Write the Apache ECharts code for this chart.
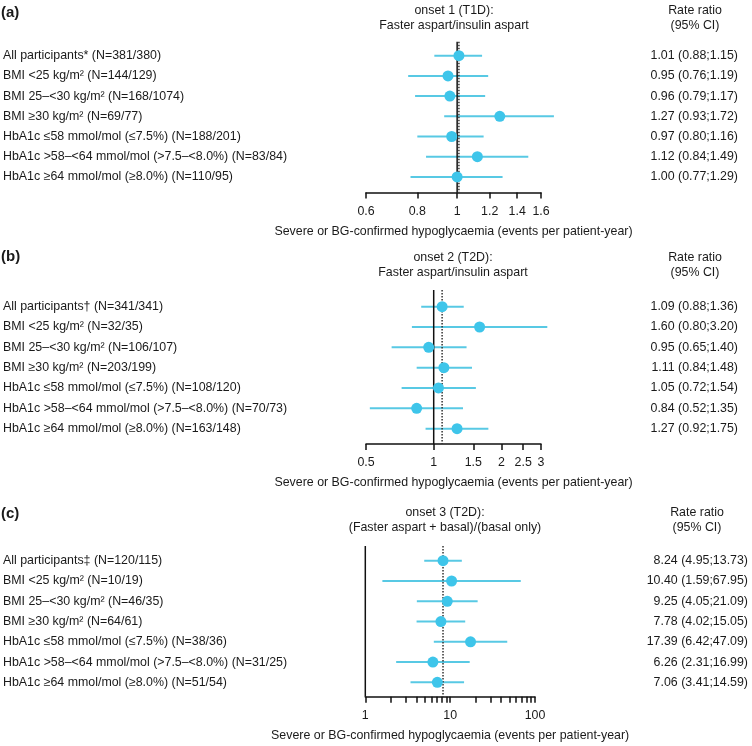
<!DOCTYPE html>
<html>
<head>
<meta charset="utf-8">
<script src="https://cdn.jsdelivr.net/npm/echarts@6/dist/echarts.min.js"></script>
<style>html,body{margin:0;padding:0;background:#fff}#c{width:752px;height:746px}</style>
</head>
<body>
<div id="c"></div>
<script>
// ---------- data ----------
const panelTags = ['(a)', '(b)', '(c)'];
const headers = ['onset 1 (T1D):\nFaster aspart/insulin aspart', 'onset 2 (T2D):\nFaster aspart/insulin aspart', 'onset 3 (T2D):\n(Faster aspart + basal)/(basal only)'];
const valueHeader = 'Rate ratio\n(95% CI)';
const xTitle = 'Severe or BG-confirmed hypoglycaemia (events per patient-year)';

const labelsA = ['All participants* (N=381/380)', 'BMI <25 kg/m² (N=144/129)', 'BMI 25–<30 kg/m² (N=168/1074)', 'BMI ≥30 kg/m² (N=69/77)', 'HbA1c ≤58 mmol/mol (≤7.5%) (N=188/201)', 'HbA1c >58–<64 mmol/mol (>7.5–<8.0%) (N=83/84)', 'HbA1c ≥64 mmol/mol (≥8.0%) (N=110/95)'];
const estA = [1.01, 0.95, 0.96, 1.27, 0.97, 1.12, 1.00];
const loA  = [0.88, 0.76, 0.79, 0.93, 0.80, 0.84, 0.77];
const hiA  = [1.15, 1.19, 1.17, 1.72, 1.16, 1.49, 1.29];
const refA = [1, 1.01];
const ticksA = [0.6, 0.8, 1, 1.2, 1.4, 1.6];
const tickLabelsA = [0.6, 0.8, 1, 1.2, 1.4, 1.6];

const labelsB = ['All participants† (N=341/341)', 'BMI <25 kg/m² (N=32/35)', 'BMI 25–<30 kg/m² (N=106/107)', 'BMI ≥30 kg/m² (N=203/199)', 'HbA1c ≤58 mmol/mol (≤7.5%) (N=108/120)', 'HbA1c >58–<64 mmol/mol (>7.5–<8.0%) (N=70/73)', 'HbA1c ≥64 mmol/mol (≥8.0%) (N=163/148)'];
const estB = [1.09, 1.60, 0.95, 1.11, 1.05, 0.84, 1.27];
const loB  = [0.88, 0.80, 0.65, 0.84, 0.72, 0.52, 0.92];
const hiB  = [1.36, 3.20, 1.40, 1.48, 1.54, 1.35, 1.75];
const refB = [1, 1.09];
const ticksB = [0.5, 1, 1.5, 2, 2.5, 3];
const tickLabelsB = [0.5, 1, 1.5, 2, 2.5, 3];

const labelsC = ['All participants‡ (N=120/115)', 'BMI <25 kg/m² (N=10/19)', 'BMI 25–<30 kg/m² (N=46/35)', 'BMI ≥30 kg/m² (N=64/61)', 'HbA1c ≤58 mmol/mol (≤7.5%) (N=38/36)', 'HbA1c >58–<64 mmol/mol (>7.5–<8.0%) (N=31/25)', 'HbA1c ≥64 mmol/mol (≥8.0%) (N=51/54)'];
const estC = [8.24, 10.40, 9.25, 7.78, 17.39, 6.26, 7.06];
const loC  = [4.95, 1.59, 4.05, 4.02, 6.42, 2.31, 3.41];
const hiC  = [13.73, 67.95, 21.09, 15.05, 47.09, 16.99, 14.59];
const refC = [1, 8.24];
const ticksC = [1, 2, 3, 4, 5, 6, 7, 8, 9, 10, 20, 30, 40, 50, 60, 70, 80, 90, 100];
const tickLabelsC = [1, 10, 100];

// ---------- layout (pixels) ----------
const layout = [
  {min: 0.6, max: 1.6, left: 365, right: 541, top: 45.6, band: 20.2, axisY: 192.5, lineTop: 41.7, valRight: 738, tagTop: 5, headTop: 3, headX: 454, valX: 695},
  {min: 0.5, max: 3,   left: 365, right: 541, top: 296.5, band: 20.33, axisY: 444, lineTop: 290, valRight: 738, tagTop: 249, headTop: 250.5, headX: 453, valX: 695},
  {min: 1,   max: 100, left: 364.3, right: 535, top: 550.6, band: 20.27, axisY: 696.7, lineTop: 546, valRight: 748, tagTop: 506, headTop: 505, headX: 445, valX: 697}
];

const panels = [
  {labels: labelsA, est: estA, lo: loA, hi: hiA, ref: refA, ticks: ticksA, tickLabels: tickLabelsA},
  {labels: labelsB, est: estB, lo: loB, hi: hiB, ref: refB, ticks: ticksB, tickLabels: tickLabelsB},
  {labels: labelsC, est: estC, lo: loC, hi: hiC, ref: refC, ticks: ticksC, tickLabels: tickLabelsC}
];

const FONT = '"Liberation Sans", Arial, sans-serif';
const FS = 12.4;
const TXT = '#1a1a1a';
const DOT = '#3ec5ea';
const BAR = '#58c9e4';
const fmt2 = v => v.toFixed(2);

const option = {
  backgroundColor: '#fff',
  animation: false,
  textStyle: {fontFamily: FONT},
  title: [], grid: [], xAxis: [], yAxis: [], series: []
};

panels.forEach((p, i) => {
  const L = layout[i];
  const h = p.labels.length * L.band;
  const valueLabels = p.est.map((v, k) => fmt2(v) + ' (' + fmt2(p.lo[k]) + ';' + fmt2(p.hi[k]) + ')');

  option.title.push(
    {text: panelTags[i], left: 1, top: L.tagTop, padding: 0, textStyle: {fontFamily: FONT, fontSize: 15, fontWeight: 'bold', color: TXT}},
    {text: headers[i], left: L.headX, top: L.headTop, padding: 0, textAlign: 'center', textStyle: {fontFamily: FONT, fontSize: FS, fontWeight: 'normal', lineHeight: 15, color: TXT}},
    {text: valueHeader, left: L.valX, top: L.headTop, padding: 0, textAlign: 'center', textStyle: {fontFamily: FONT, fontSize: FS, fontWeight: 'normal', lineHeight: 15, color: TXT}}
  );

  option.grid.push({left: L.left, top: L.top, width: L.right - L.left, height: h, containLabel: false});

  option.xAxis.push({
    gridIndex: i, type: 'log', logBase: 10, min: L.min, max: L.max,
    offset: L.axisY - (L.top + h),
    axisLine: {show: true, lineStyle: {color: '#111', width: 1.5}},
    axisTick: {show: true, length: 6, customValues: p.ticks, lineStyle: {color: '#111', width: 1.5}},
    minorTick: {show: false},
    splitLine: {show: false},
    axisLabel: {customValues: p.tickLabels, margin: 13, color: TXT, fontSize: FS, fontFamily: FONT,
      formatter: v => String(+Number(v).toPrecision(6))},
    name: xTitle, nameLocation: 'middle', nameGap: 33,
    nameTextStyle: {color: TXT, fontSize: FS, fontFamily: FONT}
  });

  option.yAxis.push({
    gridIndex: i, type: 'category', data: p.labels, inverse: true,
    axisLine: {show: false}, axisTick: {show: false}, splitLine: {show: false},
    axisLabel: {interval: 0, align: 'left', margin: L.left - 2, color: TXT, fontSize: FS, fontFamily: FONT}
  }, {
    gridIndex: i, type: 'category', data: valueLabels, inverse: true, position: 'right',
    axisLine: {show: false}, axisTick: {show: false}, splitLine: {show: false},
    axisLabel: {interval: 0, align: 'right', margin: L.valRight - L.right, color: TXT, fontSize: FS, fontFamily: FONT}
  });

  // confidence intervals
  option.series.push({
    type: 'custom', xAxisIndex: i, yAxisIndex: 2 * i, clip: false, z: 2,
    data: p.lo.map((lo, k) => [lo, p.hi[k], k]),
    encode: {x: [0, 1], y: 2},
    renderItem: (params, api) => {
      const a = api.coord([api.value(0), api.value(2)]);
      const b = api.coord([api.value(1), api.value(2)]);
      return {type: 'line', shape: {x1: a[0], y1: a[1], x2: b[0], y2: b[1]}, style: {stroke: BAR, lineWidth: 2}};
    }
  });

  // reference lines (line of no difference, overall estimate)
  option.series.push({
    type: 'custom', xAxisIndex: i, yAxisIndex: 2 * i, clip: false, z: 3,
    data: p.ref.map((v, k) => [v, 0, k]),
    encode: {x: 0, y: 1},
    renderItem: (params, api) => {
      const x = api.coord([api.value(0), 0])[0];
      const solid = api.value(2) === 0;
      return {type: 'line', shape: {x1: x, y1: L.lineTop, x2: x, y2: L.axisY},
        style: solid ? {stroke: '#111', lineWidth: 1.5} : {stroke: '#333', lineWidth: 1.5, lineDash: [1.5, 1.5]}};
    }
  });

  // point estimates
  option.series.push({
    type: 'scatter', xAxisIndex: i, yAxisIndex: 2 * i, z: 4,
    symbol: 'circle', symbolSize: 11,
    itemStyle: {color: DOT, opacity: 1},
    data: p.est.map((v, k) => [v, k])
  });
});

const chart = echarts.init(document.getElementById('c'), null, {renderer: 'canvas'});
chart.setOption(option);
</script>
</body>
</html>
